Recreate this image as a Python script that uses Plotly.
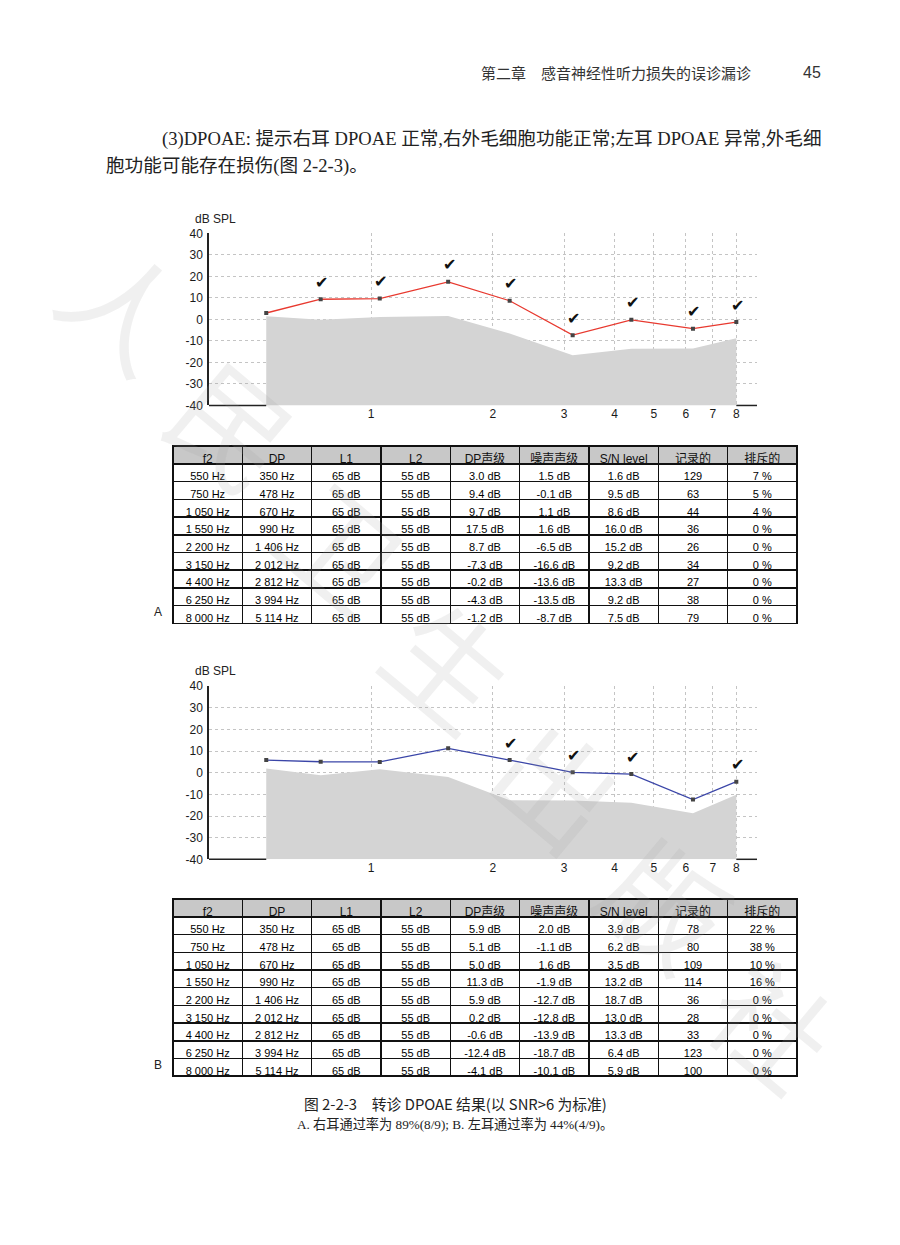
import math
import plotly.graph_objects as go

# ---------------- data ----------------
f2_hz = [550, 750, 1050, 1550, 2200, 3150, 4400, 6250, 8000]
dp_hz = [350, 478, 670, 990, 1406, 2012, 2812, 3994, 5114]
l1_db = [65] * 9
l2_db = [55] * 9

a_dp = [3.0, 9.4, 9.7, 17.5, 8.7, -7.3, -0.2, -4.3, -1.2]
a_noise = [1.5, -0.1, 1.1, 1.6, -6.5, -16.6, -13.6, -13.5, -8.7]
a_snr = [1.6, 9.5, 8.6, 16.0, 15.2, 9.2, 13.3, 9.2, 7.5]
a_rec = [129, 63, 44, 36, 26, 34, 27, 38, 79]
a_rej = [7, 5, 4, 0, 0, 0, 0, 0, 0]
a_pass = [False, True, True, True, True, True, True, True, True]

b_dp = [5.9, 5.1, 5.0, 11.3, 5.9, 0.2, -0.6, -12.4, -4.1]
b_noise = [2.0, -1.1, 1.6, -1.9, -12.7, -12.8, -13.9, -18.7, -10.1]
b_snr = [3.9, 6.2, 3.5, 13.2, 18.7, 13.0, 13.3, 6.4, 5.9]
b_rec = [78, 80, 109, 114, 36, 28, 33, 123, 100]
b_rej = [22, 38, 10, 16, 0, 0, 0, 0, 0]
b_pass = [False, False, False, False, True, True, True, False, True]

x_ticks = [1, 2, 3, 4, 5, 6, 7, 8]
y_ticks = [-40, -30, -20, -10, 0, 10, 20, 30, 40]
table_header = ["f2", "DP", "L1", "L2", "DP声级", "噪声声级", "S/N level", "记录的", "排斥的"]

header_text = "第二章　感音神经性听力损失的误诊漏诊"
page_no = "45"
para1 = "(3)DPOAE: 提示右耳 DPOAE 正常,右外毛细胞功能正常;左耳 DPOAE 异常,外毛细"
para2 = "胞功能可能存在损伤(图 2-2-3)。"
caption1 = "图 2-2-3　转诊 DPOAE 结果(以 SNR>6 为标准)"
caption2 = "A. 右耳通过率为 89%(8/9); B. 左耳通过率为 44%(4/9)。"
watermark = "人民卫生出版社"

# ---------------- layout helpers ----------------
W, H = 900, 1245


def px(x):
    return x / W


def py(y):
    return 1 - y / H


XMIN, XMAX = 0.397, 9.0
YMIN, YMAX = -40, 40
f2_k = [v / 1000 for v in f2_hz]

SANS = "Liberation Sans, Arial, sans-serif"
NARROW = "Liberation Sans Narrow, Liberation Sans, Arial, sans-serif"
CJK = "Noto Sans CJK SC, sans-serif"
SERIF = "Liberation Serif, Noto Sans CJK SC, serif"


def hz(v):
    return f"{v:,}".replace(",", " ") + " Hz"


def db(v):
    return f"{v:.1f} dB"


fig = go.Figure()

charts = [
    dict(dp=a_dp, noise=a_noise, snr=a_snr, rec=a_rec, rej=a_rej, ok=a_pass,
         color="#e8392f", top=229, bottom=403, ttop=444, label="A", ax=""),
    dict(dp=b_dp, noise=b_noise, snr=b_snr, rec=b_rec, rej=b_rej, ok=b_pass,
         color="#3b46a8", top=687, bottom=862, ttop=902, label="B", ax="2"),
]

annotations = []
shapes = []
for c in charts:
    xa = "x" + c["ax"]
    ya = "y" + c["ax"]
    # noise floor area
    fig.add_trace(go.Scatter(
        x=f2_k + f2_k[::-1], y=c["noise"] + [YMIN] * len(f2_k),
        fill="toself", fillcolor="#d4d4d4", line=dict(width=0), mode="lines",
        hoverinfo="skip", showlegend=False, xaxis=xa, yaxis=ya))
    # DP line
    fig.add_trace(go.Scatter(
        x=f2_k, y=c["dp"], mode="lines+markers",
        line=dict(color=c["color"], width=1.3),
        marker=dict(symbol="square", size=4, color="#444444"),
        showlegend=False, xaxis=xa, yaxis=ya))
    # check marks
    for xv, yv, ok in zip(f2_k, c["dp"], c["ok"]):
        if ok:
            annotations.append(dict(
                x=math.log10(xv), y=yv, xref=xa, yref=ya, text="✔",
                showarrow=False, yshift=17, xshift=1, xanchor="center", yanchor="middle",
                font=dict(family="DejaVu Sans", size=16, color="#111111")))
    # x axis baseline outside the noise area
    ybase = py(c["bottom"])
    for x0, x1 in [(XMIN, f2_k[0]), (f2_k[-1], XMAX)]:
        shapes.append(dict(type="line", xref=xa, yref="paper", x0=x0, x1=x1,
                           y0=ybase, y1=ybase, line=dict(color="#222222", width=1.5)))
    # dB SPL label
    annotations.append(dict(x=px(193), y=py(c["top"] - 15), xref="paper", yref="paper",
                            text="dB SPL", showarrow=False, xanchor="left", yanchor="middle",
                            font=dict(family=SANS, size=12, color="#222222")))
    # table
    fig.add_trace(go.Table(
        domain=dict(x=[px(173), px(797)], y=[py(c["ttop"] + 200), py(c["ttop"])]),
        columnwidth=[1] * 9,
        header=dict(values=table_header, fill_color="#c8c8c8",
                    line=dict(color="#111111", width=1.5), height=18, align="center",
                    font=dict(family=NARROW + ", Noto Sans CJK SC", size=12, color="#111111")),
        cells=dict(values=[[hz(v) for v in f2_hz], [hz(v) for v in dp_hz],
                           [f"{v} dB" for v in l1_db], [f"{v} dB" for v in l2_db],
                           [db(v) for v in c["dp"]], [db(v) for v in c["noise"]],
                           [db(v) for v in c["snr"]], [str(v) for v in c["rec"]],
                           [f"{v} %" for v in c["rej"]]],
                   fill_color="white", line=dict(color="#111111", width=1.5),
                   height=17.7, align="center",
                   font=dict(family=NARROW, size=11, color="#000000"))))
    annotations.append(dict(x=px(158), y=py(c["ttop"] + 168), xref="paper", yref="paper",
                            text=c["label"], showarrow=False, xanchor="center", yanchor="middle",
                            font=dict(family=SANS, size=12, color="#222222")))

axis_common_x = dict(type="log", range=[math.log10(XMIN), math.log10(XMAX)],
                     tickvals=x_ticks, ticktext=[str(v) for v in x_ticks],
                     showgrid=True, gridcolor="#c4c4c4", griddash="dot", gridwidth=1,
                     showline=False, zeroline=False, ticks="", layer="below traces",
                     tickfont=dict(family=SANS, size=12, color="#1a1a1a"))
axis_common_y = dict(range=[YMIN, YMAX], tickvals=y_ticks, ticktext=[str(v) for v in y_ticks],
                     showgrid=True, gridcolor="#c4c4c4", griddash="dot", gridwidth=1,
                     showline=True, linecolor="#222222", linewidth=1.5, zeroline=False,
                     ticks="", ticklabelstandoff=2,
                     tickfont=dict(family=SANS, size=12, color="#1a1a1a"))

fig.update_layout(
    xaxis=dict(domain=[px(209), px(757)], anchor="y", **axis_common_x),
    yaxis=dict(domain=[py(403), py(229)], anchor="x", **axis_common_y),
    xaxis2=dict(domain=[px(209), px(757)], anchor="y2", **axis_common_x),
    yaxis2=dict(domain=[py(862), py(687)], anchor="x2", **axis_common_y),
)

# page text
page_text = [
    dict(x=px(753), y=py(66), text=header_text, xanchor="right",
         font=dict(family=CJK, size=15, color="#333333")),
    dict(x=px(823), y=py(66), text=page_no, xanchor="right",
         font=dict(family=SANS, size=16, color="#333333")),
    dict(x=px(160), y=py(133), text=para1, xanchor="left",
         font=dict(family=SERIF, size=18.6, color="#222222")),
    dict(x=px(104), y=py(161), text=para2, xanchor="left",
         font=dict(family=SERIF, size=18.6, color="#222222")),
    dict(x=px(455), y=py(1109), text=caption1, xanchor="center",
         font=dict(family=CJK, size=14.8, color="#222222")),
    dict(x=px(455), y=py(1130), text=caption2, xanchor="center",
         font=dict(family=SERIF, size=13.2, color="#222222")),
]
for a in page_text:
    a.update(xref="paper", yref="paper", showarrow=False, yanchor="middle")
annotations += page_text

# watermark
for i, ch in enumerate(watermark):
    annotations.append(dict(x=px(128 + 108 * i), y=py(300 + 121 * i), xref="paper", yref="paper",
                            text=ch, showarrow=False, textangle=40,
                            xanchor="center", yanchor="middle",
                            font=dict(family=CJK, size=118, color="rgba(160,160,160,0.16)")))

fig.update_layout(width=W, height=H, margin=dict(l=0, r=0, t=0, b=0),
                  paper_bgcolor="white", plot_bgcolor="white",
                  annotations=annotations, shapes=shapes, showlegend=False)

fig.write_html("out.html", config={"displayModeBar": False},
               post_script="document.body.style.margin='0px';document.body.style.padding='0px';")
